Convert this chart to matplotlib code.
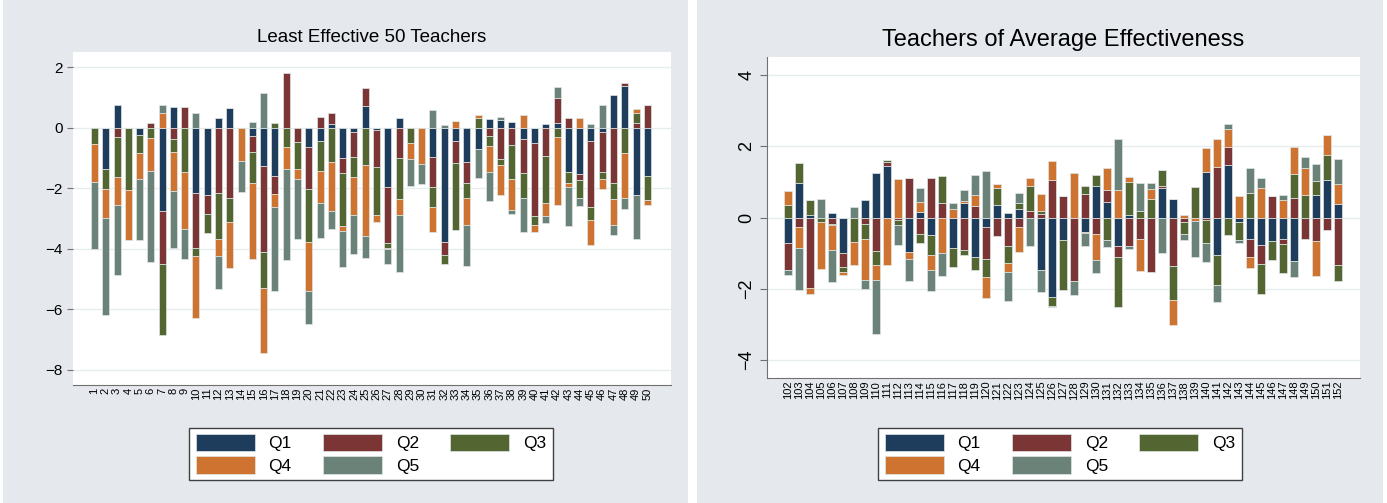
import numpy as np
import matplotlib.pyplot as plt
from matplotlib.patches import Rectangle

# least effective 50 teachers
low_ids = [str(i) for i in range(1, 51)]
low_q1 = [0, -1.36, 0.75, 0, -0.24, 0, -2.76, 0.67, 0, -2.15,
          -2.21, 0.31, 0.64, 0, -0.26, -1.25, -1.6, 0, 0, -0.63,
          -0.45, 0.12, -1.01, -0.15, 0.73, -0.07, -1.97, 0.31, 0, 0,
          -0.98, -3.76, -0.43, -1.14, -0.70, 0.29, 0.25, 0.2, -0.37, -0.51,
          0.11, 0.14, -1.45, -1.53, -0.43, -0.13, 1.08, 1.38, -2.22, -1.58]
low_q2 = [0, 0, -0.32, 0, 0, 0.14, -1.74, -0.37, 0.67, -1.82,
          -0.65, -2.15, -2.33, 0, -0.53, -2.86, -0.58, 1.82, -0.48, -1.40,
          0.36, 0.35, -0.48, -0.82, 0.57, -1.24, -1.84, -1.01, 0, 0,
          -0.97, -0.44, -0.75, -0.69, 0, -0.29, -1.03, -0.57, -1.12, -2.4,
          -0.92, 0.84, 0.31, -0.2, -2.18, -1.34, -1.84, 0.11, 0.14, 0.75]
low_q3 = [-0.54, -0.66, -1.32, -2.05, -0.6, -0.34, -2.34, -0.42, -1.45, -0.26,
          -0.63, -1.52, -0.77, 0, -1.04, -1.18, 0.14, -0.63, -0.88, -1.74,
          -0.97, -1.14, -1.76, -0.66, -1.23, -1.57, -0.16, -1.36, -0.51, 0,
          -0.68, -0.30, -2.2, -0.49, 0.33, -0.33, -0.2, -1.14, -0.84, -0.30,
          -1.57, -0.32, -0.38, -0.6, -0.43, -0.23, -0.52, -0.84, 0.33, -0.8]
low_q4 = [-1.26, -0.96, -0.91, -1.65, -0.84, -1.08, 0.5, -1.31, -1.91, -2.07,
          0, -0.58, -1.53, -1.10, -2.52, -2.15, -0.44, -0.74, -0.35, -1.62,
          -1.08, -1.62, -0.16, -1.26, -2.36, -0.24, -0.04, -0.53, -0.53, -1.2,
          -0.82, 0, 0.21, -0.9, 0.1, -0.84, -1.01, -1.0, 0.42, -0.22,
          -0.44, -2.25, -0.13, 0.31, -0.82, -0.32, -0.85, -1.49, 0.16, -0.19]
low_q5 = [-2.22, -3.22, -2.33, 0, -2.02, -3.02, 0.24, -1.87, -0.99, 0.47,
          0, -1.07, 0, -1.03, 0.2, 1.16, -2.78, -2.99, -1.96, -1.08,
          -1.15, -0.58, -1.2, -1.29, -0.71, 0, -0.49, -1.87, -0.88, -0.67,
          0.58, 0.1, 0, -1.35, -0.96, -0.96, 0.11, -0.13, -1.12, 0,
          -0.22, 0.35, -1.3, -0.27, 0.11, 0.76, -0.33, -0.37, -1.47, 0]

# teachers of average effectiveness
avg_ids = [str(i) for i in range(102, 153)]
avg_q1 = [-0.71, 0.98, 0.07, 0, 0.14, -1.0, 0, 0.48, 1.26, 1.45,
          0, -0.97, 0.16, -0.48, 0, -0.85, 0.42, -1.11, -0.28, 0.35,
          0.14, 0.23, 0, -1.46, -2.22, -0.64, 0, -0.4, 0.89, 0.44,
          -0.8, 0.08, 0, 0, 0.84, 0.52, 0, 0, 1.27, -1.04,
          1.46, -0.14, -0.59, -0.78, -0.67, -0.59, -1.22, 0, 0.63, 1.05, 0.39]
avg_q2 = [-0.77, -0.28, -1.97, 0, -0.19, -0.38, 0, -0.18, -0.94, 0.12,
          -0.06, 1.12, -0.47, 1.12, 0.41, 0, -0.92, 0.33, -0.89, -0.53,
          -0.81, -0.26, 0.18, 0.09, 1.05, 0.6, -1.78, 0.65, -0.47, 0.33,
          -0.31, -0.81, -0.59, -1.54, 0.03, -1.37, -0.14, 0, -0.06, 1.41,
          0.52, 0, -0.52, -0.52, 0.6, -0.14, 0.54, -0.59, -0.67, -0.36, -1.34]
avg_q3 = [0.35, 0.54, 0.42, -0.14, -0.03, -0.14, -0.7, -0.41, -0.4, 0.04,
          -0.16, 0, -0.24, -0.56, 0.76, -0.54, -0.12, -0.36, -0.5, 0.47,
          -0.46, 0.19, 0.69, 0.08, -0.25, -1.39, 0, 0.22, 0.3, -0.64,
          -1.41, 0.92, 0.18, 0.53, 0.47, -0.93, -0.31, 0.86, -0.66, -0.85,
          -0.5, -0.48, 0.69, -0.85, -0.51, -0.82, 0.69, 0.63, 0.4, 0.69, -0.44]
avg_q4 = [0.39, -0.57, -0.17, -1.3, -0.68, -0.08, -0.62, -1.15, -0.4, -1.32,
          1.08, -0.19, 0.28, -0.44, -1.0, 0.25, 0.03, 0.3, -0.58, 0.11,
          -0.26, -0.72, 0.25, 0.5, 0.54, 0, 1.26, -0.03, -0.71, 0.61,
          0.77, 0.14, -0.91, 0.26, 0, -0.71, 0.08, -0.1, 0.68, 0.79,
          0.49, 0.61, -0.3, 0.84, 0, 0.49, 0.74, 0.75, -0.98, 0.56, 0.54]
avg_q5 = [-0.12, -1.19, 0, 0.52, -0.92, 0, 0.3, -0.26, -1.52, 0,
          -0.56, -0.63, 0.39, -0.58, -0.63, 0.16, 0.33, 0.56, 1.3, 0,
          -0.8, 0.26, -0.81, -0.62, -0.03, 0, -0.4, -0.38, -0.37, -0.19,
          1.43, -0.07, 0.8, 0.19, -0.99, 0, -0.17, -1.0, -0.54, -0.49,
          0.14, -0.09, 0.69, 0.28, 0, 0.14, -0.45, 0.31, 0.46, 0, 0.7]

names = ["Q1", "Q2", "Q3", "Q4", "Q5"]
colors = ["#1e3d5c", "#7b3535", "#536530", "#cf7430", "#6b8279"]
bg = "#e5e9ee"


def stacked(ax, ids, series, width):
    x = np.arange(len(ids))
    pos = np.zeros(len(ids))
    neg = np.zeros(len(ids))
    for vals, col, lab in zip(series, colors, names):
        v = np.array(vals, dtype=float)
        bottom = np.where(v >= 0, pos, neg)
        ax.bar(x, v, bottom=bottom, width=width, color=col,
               edgecolor="#dfe6e6", linewidth=0.5, label=lab, zorder=3)
        pos += np.clip(v, 0, None)
        neg += np.clip(v, None, 0)
    ax.set_xticks(x)
    ax.set_xticklabels(ids, rotation=90, fontsize=8)
    ax.tick_params(axis="x", length=0, pad=2)
    ax.grid(axis="y", color="#e6edef", linewidth=1, zorder=0)
    for s in ["top", "right"]:
        ax.spines[s].set_visible(False)
    ax.spines["bottom"].set_color("#707070")
    ax.spines["left"].set_color("#707070")


plt.rcParams["font.family"] = ["Liberation Sans", "DejaVu Sans"]
fig = plt.figure(figsize=(13.87, 5.03), dpi=100)
fig.patches.append(Rectangle((3 / 1387, 0), 685 / 1387, 1, transform=fig.transFigure,
                             facecolor=bg, edgecolor="none", zorder=-5))
fig.patches.append(Rectangle((697 / 1387, 0), 686 / 1387, 1, transform=fig.transFigure,
                             facecolor=bg, edgecolor="none", zorder=-5))

ax1 = fig.add_axes([73 / 1387, 1 - 385 / 503, 598 / 1387, 333 / 503])
stacked(ax1, low_ids, [low_q1, low_q2, low_q3, low_q4, low_q5], 0.62)
ax1.set_xlim(-1.9, 51.1)
ax1.set_ylim(-8.5, 2.5)
ax1.set_yticks([2, 0, -2, -4, -6, -8])
ax1.tick_params(axis="y", labelsize=11, length=4, color="#707070")
ax1.spines["left"].set_visible(False)
ax1.set_title("Least Effective 50 Teachers", fontsize=13.5, pad=7)

ax2 = fig.add_axes([767 / 1387, 1 - 378 / 503, 593 / 1387, 321 / 503])
stacked(ax2, avg_ids, [avg_q1, avg_q2, avg_q3, avg_q4, avg_q5], 0.7)
ax2.set_xlim(-1.9, 51.97)
ax2.set_ylim(-4.5, 4.5)
ax2.set_yticks([4, 2, 0, -2, -4])
ax2.tick_params(axis="y", labelsize=13, length=5, color="#707070")
for t in ax2.get_yticklabels():
    t.set_rotation(90)
    t.set_va("center")
ax2.set_title("Teachers of Average Effectiveness", fontsize=17, pad=8)

# legend fills row-wise in the reference: Q1 Q2 Q3 / Q4 Q5
handles, labels = ax1.get_legend_handles_labels()
order = [0, 3, 1, 4, 2]
handles = [handles[i] for i in order]
labels = [labels[i] for i in order]
for cx in [371 / 1387, 1060 / 1387]:
    fig.legend(handles, labels, loc="upper center", bbox_to_anchor=(cx, 1 - 419 / 503),
               ncol=3, fontsize=12.5, handlelength=3.4, handleheight=1.15,
               columnspacing=1.8, handletextpad=0.8, labelspacing=0.3,
               fancybox=False, edgecolor="#404040", framealpha=1,
               borderpad=0.35)

fig.savefig("out.png", dpi=100)
